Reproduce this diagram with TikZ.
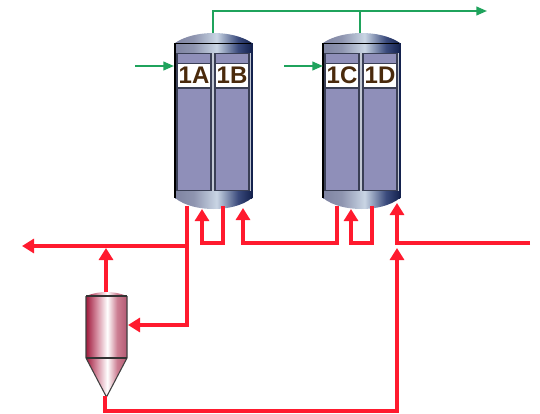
\documentclass[tikz,border=0pt]{standalone}
\usepackage{fontspec}
\setmainfont{Liberation Sans}
\usetikzlibrary{arrows.meta}
\definecolor{redline}{HTML}{FF1A2E}
\definecolor{greenline}{HTML}{1FA35C}
\definecolor{panelfill}{HTML}{8F8FB9}
\definecolor{paneledge}{HTML}{3A3F55}
\definecolor{gapfill}{HTML}{C2C8D4}
\definecolor{labeltext}{HTML}{4A2A0C}
\definecolor{vesa}{HTML}{7F84A2}
\definecolor{vesb}{HTML}{C9D5E4}
\definecolor{vesc}{HTML}{3A4A7C}
\definecolor{vesd}{HTML}{14224E}
\pgfdeclarehorizontalshading{vesselshade}{100bp}{
 color(0bp)=(vesa);
 color(25bp)=(vesa);
 color(37bp)=(vesa!80!vesb);
 color(52bp)=(vesb);
 color(66bp)=(vesc);
 color(75bp)=(vesd);
 color(100bp)=(vesd)}
\definecolor{sepa}{HTML}{A01A3C}
\definecolor{sepb}{HTML}{D894A6}
\definecolor{sepc}{HTML}{FFFFFF}
\definecolor{sepd}{HTML}{CC7E92}
\definecolor{sepe}{HTML}{B45A74}
\pgfdeclarehorizontalshading{sepshade}{100bp}{
 color(0bp)=(sepa);
 color(25bp)=(sepa);
 color(39bp)=(sepb);
 color(51bp)=(sepc);
 color(63bp)=(sepd);
 color(75bp)=(sepe);
 color(100bp)=(sepe)}
\tikzset{
 redpipe/.style={draw=redline,line width=3.5pt,line join=miter},
 redarrow/.style={redpipe,-{Triangle[length=9pt,width=10.5pt]}},
 greenpipe/.style={draw=greenline,line width=1.5pt},
 greenarrow/.style={greenpipe,-{Triangle[length=8pt,width=6.5pt]}},
 panel/.style={draw=paneledge,line width=0.8pt,fill=panelfill},
 vesselend/.style={shading=vesselshade},
 tag/.style={draw=paneledge,line width=0.8pt,fill=white,minimum width=25.5pt,minimum height=18.7pt,inner sep=0pt,
   font=\fontsize{18}{18}\selectfont\bfseries,text=labeltext}
}
\newcommand{\drumvessel}[3]{% x-shift, name a, name b
 \begin{scope}[xshift=#1*0.75pt]
  \fill[gapfill] (175,43) rectangle (252,198);
  \path[panel] (177,53) rectangle (211,191);
  \path[panel] (215,53) rectangle (249,191);
  \path[vesselend] (175,43) .. controls (185,36) and (200,33) .. (213.5,33) .. controls (227,33) and (242,36) .. (252,43) -- cycle;
  \path[vesselend] (175,43) rectangle (252,52);
  \path[vesselend] (175,191) rectangle (252,198);
  \path[vesselend] (175,198) .. controls (185,206) and (200,209) .. (213.5,209) .. controls (227,209) and (242,206) .. (252,198) -- cycle;
  \draw[black,line width=0.7pt] (175,43) -- (252,43);
  \draw[black,line width=1pt] (175,43) -- (175,198);
  \draw[vesd,line width=1pt] (252,43) -- (252,198);
  \node[tag] (#2) at (194,75.5) {#2};
  \node[tag] (#3) at (232,75.5) {#3};
 \end{scope}}
\begin{document}
\begin{tikzpicture}[x=0.75pt,y=-0.75pt]
\useasboundingbox (0,0) rectangle (540,414);
\drumvessel{0}{1A}{1B}
\drumvessel{148}{1C}{1D}
% separator
\path[shading=sepshade] (86,296) .. controls (94,293) and (100,292) .. (106.5,292) .. controls (113,292) and (119,293) .. (127,296) -- cycle;
\path[shading=sepshade] (86,296) rectangle (127,358);
\path[shading=sepshade] (86,358) -- (127,358) -- (106.5,397) -- cycle;
\draw[black!75,line width=0.8pt] (86,296) -- (86,358) -- (106.5,397) -- (127,358) -- (127,296);
\draw[black!80,line width=0.8pt] (86,296) -- (127,296) (86,358) -- (127,358);
% ports
\coordinate (gtopA) at (213,33);
\coordinate (gtopC) at (360,33);
\coordinate (gcornerA) at (213,11);
\coordinate (gjoin) at (360,11);
\coordinate (gend) at (487,11);
\coordinate (ginA) at (135,66);
\coordinate (ginAe) at (174,66);
\coordinate (ginC) at (284,66);
\coordinate (ginCe) at (323,66);
\coordinate (oA) at (187,206);
\coordinate (oAm) at (187,246);
\coordinate (oAb) at (187,325);
\coordinate (sepin) at (128,325);
\coordinate (mainend) at (22,246);
\coordinate (septop) at (106,292);
\coordinate (sepjoin) at (106,248);
\coordinate (l1a) at (223,206);
\coordinate (l1b) at (223,243);
\coordinate (l1c) at (202,243);
\coordinate (l1d) at (202,209);
\coordinate (l2a) at (337,206);
\coordinate (l2b) at (337,243);
\coordinate (l2c) at (243,243);
\coordinate (l2d) at (243,208);
\coordinate (l3a) at (372,206);
\coordinate (l3b) at (372,243);
\coordinate (l3c) at (351,243);
\coordinate (l3d) at (351,209);
\coordinate (feedin) at (530,243);
\coordinate (feedj) at (397,243);
\coordinate (feedt) at (397,203);
\coordinate (botj) at (397,248);
\coordinate (botr) at (397,411);
\coordinate (botl) at (105,411);
\coordinate (sepbot) at (105,396);
% green
\draw[greenpipe] (gtopA) -- (gcornerA) -- (gjoin);
\draw[greenpipe] (gtopC) -- (gjoin);
\draw[greenarrow] (gjoin) -- (gend);
\draw[greenarrow] (ginA) -- (ginAe);
\draw[greenarrow] (ginC) -- (ginCe);
% red
\draw[redarrow] (oAm) -- (mainend);
\draw[redarrow] (oA) -- (oAb) -- (sepin);
\draw[redarrow] (septop) -- (sepjoin);
\draw[redarrow] (l1a) -- (l1b) -- (l1c) -- (l1d);
\draw[redarrow] (l2a) -- (l2b) -- (l2c) -- (l2d);
\draw[redarrow] (l3a) -- (l3b) -- (l3c) -- (l3d);
\draw[redarrow] (feedin) -- (feedj) -- (feedt);
\draw[redarrow] (sepbot) -- (botl) -- (botr) -- (botj);
\end{tikzpicture}
\end{document}
